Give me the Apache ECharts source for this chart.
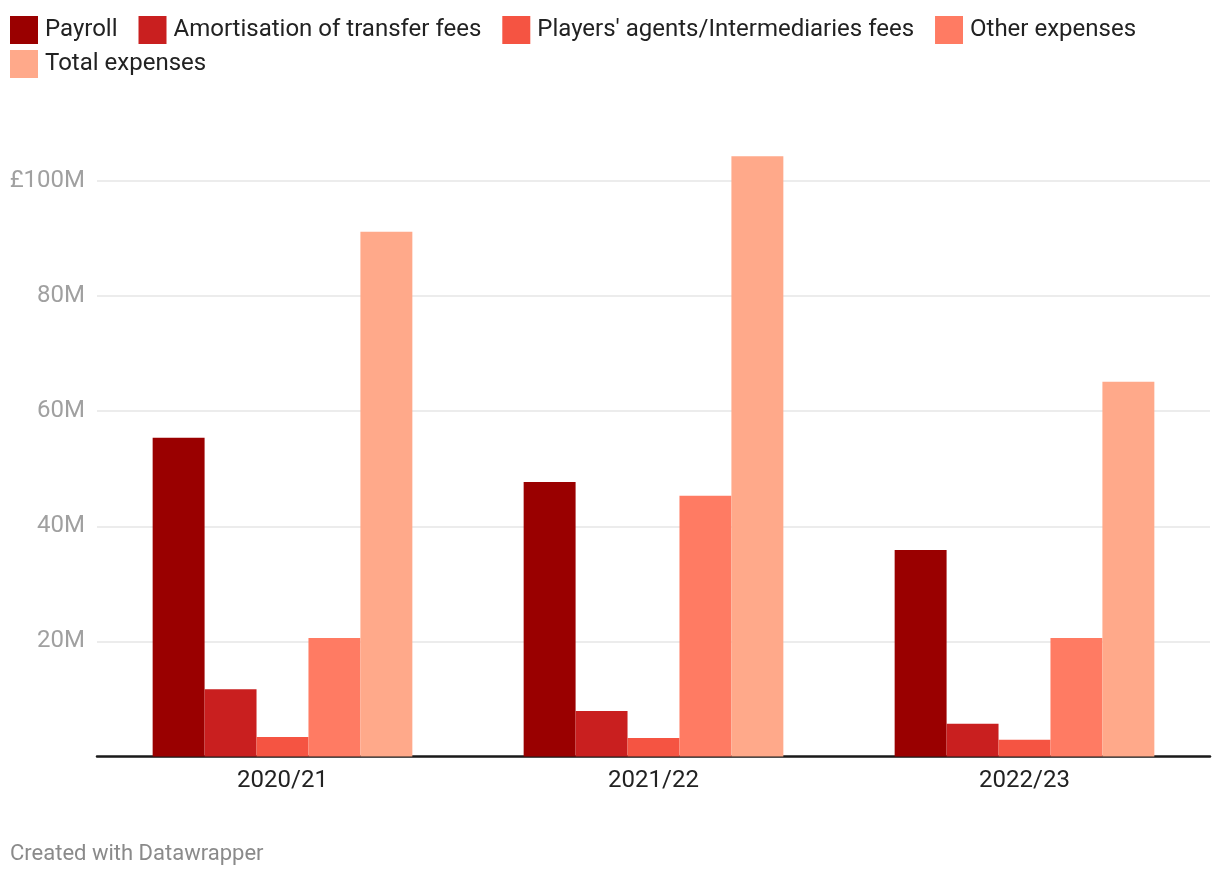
<!DOCTYPE html>
<html>
<head>
<meta charset="utf-8">
<script src="https://cdn.jsdelivr.net/npm/echarts@6/dist/echarts.min.js"></script>
<style>
html,body{margin:0;padding:0;background:#fff;}
#c{width:1220px;height:878px;}
</style>
</head>
<body>
<div id="c"></div>
<script>
const categories = ['2020/21', '2021/22', '2022/23'];
const seriesNames = ['Payroll', 'Amortisation of transfer fees', "Players' agents/Intermediaries fees", 'Other expenses', 'Total expenses'];
const payroll = [55.4, 47.7, 35.9];
const amortisation = [11.7, 7.9, 5.7];
const agentsFees = [3.4, 3.2, 2.9];
const otherExpenses = [20.6, 45.3, 20.6];
const totalExpenses = [91.2, 104.3, 65.1];
const yTicks = [0, 20, 40, 60, 80, 100];
const colors = ['#9a0000', '#c91f1f', '#f55442', '#ff7b63', '#ffa98a'];

const values = [payroll, amortisation, agentsFees, otherExpenses, totalExpenses];
const chart = echarts.init(document.getElementById('c'));
const font = 'Roboto, "Noto Sans", sans-serif';
const legendBase = {
  itemWidth: 28, itemHeight: 28, itemGap: 21,
  icon: 'rect',
  textStyle: { fontSize: 24, color: '#222', fontFamily: font, padding: [0, 0, 0, 2] }
};
chart.setOption({
  animation: false,
  color: colors,
  textStyle: { fontFamily: font },
  legend: [
    Object.assign({ left: 5, top: 11, data: seriesNames.slice(0, 4) }, legendBase),
    Object.assign({ left: 5, top: 45, data: seriesNames.slice(4) }, legendBase)
  ],
  graphic: [{
    type: 'text', left: 10, top: 843,
    style: { text: 'Created with Datawrapper', fill: '#8a8a8a', fontSize: 22, fontFamily: font }
  }],
  grid: { left: 97, right: 10, top: 181, bottom: 121.5, containLabel: false },
  xAxis: {
    type: 'category',
    data: categories,
    axisLine: { lineStyle: { color: '#1a1a1a', width: 2.5 } },
    axisTick: { show: false },
    axisLabel: { fontSize: 24, color: '#222', margin: 12, fontFamily: font }
  },
  yAxis: {
    type: 'value',
    min: 0, max: 100, interval: 20,
    axisLine: { show: false },
    axisTick: { show: false },
    splitLine: { lineStyle: { color: '#e6e6e6', width: 1.5 } },
    axisLabel: {
      fontSize: 24, color: '#a0a0a0', margin: 12, fontFamily: font,
      formatter: function (v) {
        if (v === 0) return '';
        if (yTicks.indexOf(v) < 0) return '';
        return (v === 100 ? '£' : '') + v + 'M';
      }
    }
  },
  series: seriesNames.map((n, i) => ({
    name: n, type: 'bar', data: values[i],
    barGap: '0%', barCategoryGap: '30%', clip: false,
    itemStyle: { color: colors[i] }
  }))
});
</script>
</body>
</html>
